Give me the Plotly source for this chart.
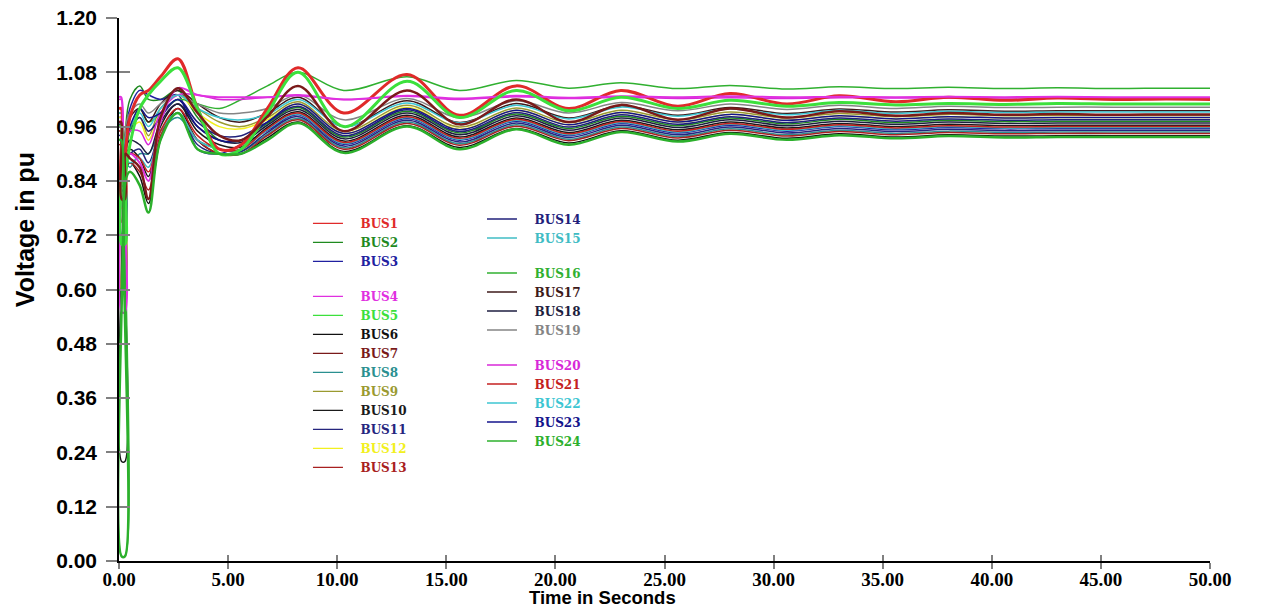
import plotly.graph_objects as go

# time samples (s)
T = [0.0, 0.1, 0.12, 0.27, 0.3, 0.5, 0.95, 1.35, 1.9, 2.7, 3.6, 4.6, 5.6, 6.8, 8.2, 10.3,
     13.2, 15.6, 18.2, 20.6, 23.0, 25.6, 28.0, 30.6, 33.0, 35.6, 38.0, 40.6, 43.0, 45.6, 48.0, 50.0]

BUS1 = [1.00, 1.00, 0.80, 0.80, 0.90, 0.98, 1.03, 1.04, 1.07, 1.11, 1.00, 0.91, 0.92,
        1.00, 1.09, 0.99, 1.075, 0.985, 1.05, 1.00, 1.04, 1.005, 1.033, 1.01, 1.028, 1.015, 1.025, 1.018, 1.023, 1.02, 1.021, 1.02]
BUS2 = [0.99, 0.99, 0.75, 0.75, 0.95, 1.02, 1.05, 1.02, 1.02, 1.04, 0.98, 0.93, 0.93,
        0.967, 1.002, 0.937, 0.994, 0.946, 0.988, 0.956, 0.983, 0.962, 0.979, 0.966, 0.976, 0.969, 0.974, 0.971, 0.972, 0.972, 0.972, 0.972]
BUS3 = [0.98, 0.98, 0.72, 0.72, 0.94, 1.00, 1.04, 1.03, 1.02, 1.03, 0.91, 0.90, 0.92,
        0.951, 0.986, 0.921, 0.978, 0.930, 0.972, 0.940, 0.967, 0.946, 0.963, 0.950, 0.960, 0.953, 0.958, 0.955, 0.956, 0.956, 0.956, 0.956]
BUS4 = [1.025, 1.025, 0.55, 0.55, 0.88, 0.90, 0.88, 0.84, 0.97, 1.045, 1.03, 1.025, 1.025,
        1.025, 1.03, 1.02, 1.028, 1.022, 1.028, 1.024, 1.027, 1.025, 1.027, 1.025, 1.026, 1.025, 1.026, 1.025, 1.026, 1.025, 1.025, 1.025]
BUS5 = [0.96, 0.96, 0.70, 0.70, 0.85, 0.92, 1.00, 1.03, 1.06, 1.09, 1.00, 0.90, 0.91,
        0.99, 1.08, 0.96, 1.06, 0.98, 1.04, 0.995, 1.025, 1.00, 1.018, 1.005, 1.013, 1.008, 1.011, 1.009, 1.011, 1.01, 1.01, 1.01]
BUS6 = [0.95, 0.95, 0.22, 0.22, 0.86, 0.88, 0.85, 0.79, 0.93, 1.00, 0.93, 0.90, 0.90,
        0.935, 0.970, 0.905, 0.962, 0.914, 0.956, 0.924, 0.951, 0.930, 0.947, 0.934, 0.944, 0.937, 0.942, 0.939, 0.940, 0.940, 0.940, 0.940]
BUS7 = [0.97, 0.97, 0.80, 0.80, 0.90, 0.89, 0.87, 0.80, 0.98, 1.045, 0.99, 0.94, 0.93,
        0.982, 1.05, 0.95, 1.04, 0.965, 1.02, 0.97, 1.008, 0.975, 1.00, 0.98, 0.994, 0.984, 0.99, 0.986, 0.988, 0.986, 0.987, 0.987]
BUS8 = [0.93, 0.93, 0.78, 0.78, 0.88, 0.87, 0.90, 0.90, 0.95, 0.98, 0.93, 0.91, 0.905,
        0.943, 0.978, 0.913, 0.970, 0.922, 0.964, 0.932, 0.959, 0.938, 0.955, 0.942, 0.952, 0.945, 0.950, 0.947, 0.948, 0.948, 0.948, 0.948]
BUS9 = [0.99, 0.99, 0.60, 0.60, 0.92, 0.96, 0.98, 0.94, 1.00, 1.03, 1.00, 0.97, 0.96,
        0.980, 1.015, 0.950, 1.007, 0.959, 1.001, 0.969, 0.996, 0.975, 0.992, 0.979, 0.989, 0.982, 0.987, 0.984, 0.985, 0.985, 0.985, 0.985]
BUS10 = [0.96, 0.96, 0.82, 0.82, 0.90, 0.91, 0.89, 0.85, 0.96, 1.01, 0.95, 0.92, 0.915,
         0.958, 0.993, 0.928, 0.985, 0.937, 0.979, 0.947, 0.974, 0.953, 0.970, 0.957, 0.967, 0.960, 0.965, 0.962, 0.963, 0.963, 0.963, 0.963]
BUS11 = [0.94, 0.94, 0.80, 0.80, 0.89, 0.90, 0.91, 0.88, 0.95, 0.99, 0.92, 0.90, 0.905,
         0.947, 0.982, 0.917, 0.974, 0.926, 0.968, 0.936, 0.963, 0.942, 0.959, 0.946, 0.956, 0.949, 0.954, 0.951, 0.952, 0.952, 0.952, 0.952]
BUS12 = [0.98, 0.98, 0.85, 0.85, 0.93, 0.95, 0.97, 0.93, 0.99, 1.03, 0.99, 0.96, 0.955,
         0.975, 1.010, 0.945, 1.002, 0.954, 0.996, 0.964, 0.991, 0.970, 0.987, 0.974, 0.984, 0.977, 0.982, 0.979, 0.980, 0.980, 0.980, 0.980]
BUS13 = [0.92, 0.92, 0.75, 0.75, 0.87, 0.88, 0.86, 0.82, 0.94, 0.99, 0.93, 0.90, 0.90,
         0.940, 0.975, 0.910, 0.967, 0.919, 0.961, 0.929, 0.956, 0.935, 0.952, 0.939, 0.949, 0.942, 0.947, 0.944, 0.945, 0.945, 0.945, 0.945]
BUS14 = [0.97, 0.97, 0.84, 0.84, 0.92, 0.95, 0.98, 0.95, 0.98, 1.02, 0.97, 0.94, 0.94,
         0.970, 1.005, 0.940, 0.997, 0.949, 0.991, 0.959, 0.986, 0.965, 0.982, 0.969, 0.979, 0.972, 0.977, 0.974, 0.975, 0.975, 0.975, 0.975]
BUS15 = [0.95, 0.95, 0.80, 0.80, 0.89, 0.88, 0.89, 0.87, 0.95, 0.99, 0.93, 0.91, 0.91,
         0.953, 0.988, 0.923, 0.980, 0.932, 0.974, 0.942, 0.969, 0.948, 0.965, 0.952, 0.962, 0.955, 0.960, 0.957, 0.958, 0.958, 0.958, 0.958]
BUS16 = [1.00, 1.00, 0.01, 0.01, 0.88, 0.95, 1.00, 0.97, 0.99, 1.02, 1.01, 1.00, 1.02,
         1.05, 1.08, 1.04, 1.07, 1.04, 1.062, 1.045, 1.057, 1.044, 1.051, 1.043, 1.048, 1.044, 1.047, 1.044, 1.046, 1.044, 1.045, 1.045]
BUS17 = [1.00, 1.00, 0.86, 0.86, 0.95, 0.98, 1.00, 0.97, 1.01, 1.04, 1.01, 0.98, 0.97,
         0.990, 1.025, 0.960, 1.017, 0.969, 1.011, 0.979, 1.006, 0.985, 1.002, 0.989, 0.999, 0.992, 0.997, 0.994, 0.995, 0.995, 0.995, 0.995]
BUS18 = [0.965, 0.965, 0.83, 0.83, 0.91, 0.93, 0.92, 0.90, 0.97, 1.01, 0.96, 0.93, 0.925,
         0.963, 0.998, 0.933, 0.990, 0.942, 0.984, 0.952, 0.979, 0.958, 0.975, 0.962, 0.972, 0.965, 0.970, 0.967, 0.968, 0.968, 0.968, 0.968]
BUS19 = [1.00, 1.00, 0.88, 0.88, 0.96, 0.99, 1.01, 0.99, 1.01, 1.03, 1.01, 0.99, 0.99,
         1.000, 1.030, 0.975, 1.022, 0.980, 1.017, 0.990, 1.013, 0.995, 1.010, 0.998, 1.007, 1.000, 1.005, 1.002, 1.003, 1.003, 1.003, 1.003]
BUS20 = [1.02, 1.02, 0.70, 0.70, 0.92, 0.95, 0.95, 0.92, 0.99, 1.03, 1.03, 1.02, 1.02,
         1.025, 1.028, 1.02, 1.027, 1.02, 1.026, 1.022, 1.025, 1.022, 1.024, 1.022, 1.024, 1.023, 1.023, 1.023, 1.023, 1.023, 1.023, 1.023]
BUS21 = [0.95, 0.95, 0.78, 0.78, 0.88, 0.90, 0.89, 0.86, 0.95, 1.00, 0.94, 0.91, 0.91,
         0.955, 0.990, 0.925, 0.982, 0.934, 0.976, 0.944, 0.971, 0.950, 0.967, 0.954, 0.964, 0.957, 0.962, 0.959, 0.960, 0.960, 0.960, 0.960]
BUS22 = [0.99, 0.99, 0.87, 0.87, 0.94, 0.96, 0.99, 0.96, 1.00, 1.03, 1.00, 0.98, 0.975,
         0.987, 1.020, 0.960, 1.012, 0.968, 1.007, 0.977, 1.003, 0.983, 0.999, 0.986, 0.996, 0.989, 0.994, 0.991, 0.992, 0.992, 0.992, 0.992]
BUS23 = [0.97, 0.97, 0.82, 0.82, 0.92, 0.96, 1.00, 0.98, 0.99, 1.02, 0.96, 0.93, 0.93,
         0.970, 1.010, 0.945, 1.000, 0.953, 0.996, 0.964, 0.991, 0.970, 0.987, 0.974, 0.984, 0.977, 0.982, 0.979, 0.980, 0.980, 0.980, 0.980]
BUS24 = [0.93, 0.93, 0.01, 0.01, 0.84, 0.86, 0.83, 0.77, 0.93, 0.99, 0.91, 0.90, 0.90,
         0.930, 0.968, 0.902, 0.960, 0.910, 0.954, 0.920, 0.948, 0.927, 0.944, 0.931, 0.941, 0.934, 0.939, 0.936, 0.937, 0.937, 0.937, 0.937]

NAMES = [f"BUS{i}" for i in range(1, 25)]
VALUES = [BUS1, BUS2, BUS3, BUS4, BUS5, BUS6, BUS7, BUS8, BUS9, BUS10, BUS11, BUS12,
          BUS13, BUS14, BUS15, BUS16, BUS17, BUS18, BUS19, BUS20, BUS21, BUS22, BUS23, BUS24]
COLORS = ["#e02a2a", "#1f8a1f", "#2020a0", "#e030e0", "#3ce03c", "#111111", "#7a1a1a", "#2a9090",
          "#9a9a30", "#1a1a1a", "#25257e", "#f2f020", "#a82020", "#20207a", "#40bcc4", "#30b030",
          "#3e1a1a", "#1e1e40", "#858585", "#d828d8", "#c42020", "#3cc6d2", "#14148c", "#2cb02c"]
WIDTHS = [3, 1.5, 1.5, 2, 3, 1.5, 2.5, 1.5, 1.5, 1.5, 1.5, 1.5,
          1.5, 1.5, 1.5, 1.5, 1.5, 1.5, 1.5, 1.5, 1.5, 1.5, 1.5, 2.5]
# legend grouping (column, group)
LEG_COL = ["legend"] * 13 + ["legend2"] * 11
LEG_GRP = ["a"] * 3 + ["b"] * 10 + ["c"] * 2 + ["d"] * 4 + ["e"] * 5

fig = go.Figure()

draw_order = [i for i in range(24) if WIDTHS[i] < 2] + [i for i in range(24) if WIDTHS[i] >= 2]
for i in draw_order:
    fig.add_trace(go.Scatter(
        x=T, y=VALUES[i], mode="lines", name=NAMES[i],
        line=dict(color=COLORS[i], width=WIDTHS[i], shape="spline", smoothing=1.0),
        showlegend=False, hoverinfo="skip"))

PAD = "\u00a0\u00a0\u00a0"
for i in range(24):
    fig.add_trace(go.Scatter(
        x=[None], y=[None], mode="lines",
        name=f'{PAD}<span style="color:{COLORS[i]}">{NAMES[i]}</span>',
        line=dict(color=COLORS[i], width=1.3),
        legend=LEG_COL[i], legendgroup=LEG_GRP[i], showlegend=True, hoverinfo="skip"))

legend_font = dict(family="DejaVu Serif, Liberation Serif, serif", size=12, color="#000", weight="bold")
common_leg = dict(bgcolor="rgba(0,0,0,0)", borderwidth=0, font=legend_font, traceorder="grouped",
                  tracegroupgap=16, itemwidth=30, xanchor="left", yanchor="top")

fig.update_layout(
    width=1261, height=610,
    margin=dict(l=119, r=51, t=18, b=49, autoexpand=False),
    paper_bgcolor="white", plot_bgcolor="white",
    showlegend=True,
    legend=dict(x=0.1732, y=0.6486, **common_leg),
    legend2=dict(x=0.3327, y=0.6565, **common_leg),
    xaxis=dict(range=[0, 50], dtick=5, tick0=0, tickformat=".2f", automargin=False,
               showgrid=False, zeroline=False, showline=True, linecolor="#000", linewidth=1.5,
               ticks="outside", ticklen=6, tickcolor="#808080", tickwidth=1.5,
               ticklabelstandoff=-6, ticklabeloverflow="allow",
               tickfont=dict(family="Liberation Serif, Times New Roman, serif", size=19, color="#000", weight="bold")),
    yaxis=dict(range=[0, 1.2], dtick=0.12, tick0=0, tickformat=".2f", automargin=False,
               showgrid=False, zeroline=False, showline=True, linecolor="#000", linewidth=1.5,
               ticks="outside", ticklen=11, tickcolor="#808080", tickwidth=1.5,
               ticklabelstandoff=5, ticklabeloverflow="allow",
               tickfont=dict(family="Liberation Sans, Arial, sans-serif", size=21, color="#000", weight="bold")),
    xaxis2=dict(overlaying="x", matches="x", side="bottom", anchor="y", showgrid=False, zeroline=False,
                ticks="inside", ticklen=6, tickcolor="#808080", tickwidth=1.5, dtick=5, tick0=0,
                showticklabels=False, showline=False, automargin=False),
    yaxis2=dict(overlaying="y", matches="y", side="left", anchor="x", showgrid=False, zeroline=False,
                ticks="inside", ticklen=11, tickcolor="#808080", tickwidth=1.5, dtick=0.12, tick0=0,
                showticklabels=False, showline=False, automargin=False),
    annotations=[
        dict(text="Voltage in pu", xref="paper", yref="paper", x=-0.0862, y=0.611,
             textangle=-90, showarrow=False, xanchor="center", yanchor="middle",
             font=dict(family="Liberation Sans, Arial, sans-serif", size=25, color="#000", weight="bold")),
        dict(text="Time in Seconds", xref="paper", yref="paper", x=0.4436, y=-0.0681,
             showarrow=False, xanchor="center", yanchor="middle",
             font=dict(family="Liberation Sans, Arial, sans-serif", size=18.5, color="#000", weight="bold")),
    ],
)
# dummy trace on the overlay axes so their inside ticks are drawn
fig.add_trace(go.Scatter(x=[None], y=[None], xaxis="x2", yaxis="y2", showlegend=False, hoverinfo="skip"))

# remove the default 8px page margin so the figure fills the window exactly
fig.write_html("out.html", config={"displayModeBar": False},
               post_script="document.body.style.margin='0';")
